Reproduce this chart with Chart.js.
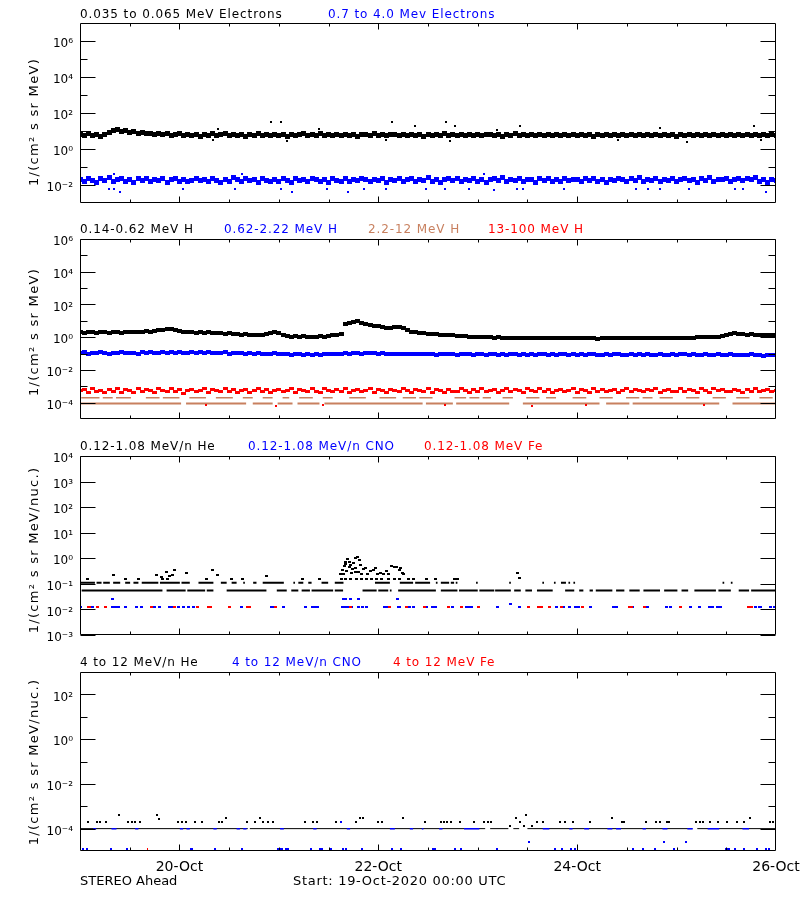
<!DOCTYPE html>
<html>
<head>
<meta charset="utf-8">
<script src="https://cdn.jsdelivr.net/npm/chart.js@4/dist/chart.umd.min.js"></script>
<style>
  body { margin: 0; background: #fff; width: 800px; height: 900px; position: relative; overflow: hidden; font-family: "DejaVu Sans", sans-serif; }
  canvas { position: absolute; left: 0; }
  .ttl { position: absolute; font-size: 12px; line-height: 14px; letter-spacing: 0.9px; white-space: pre; }
  .ylab { position: absolute; font-size: 13px; letter-spacing: 1.3px; white-space: nowrap; transform: translate(-50%, -50%) rotate(-90deg); }
  .foot { position: absolute; font-size: 13px; line-height: 14px; white-space: pre; }
</style>
</head>
<body>
<canvas id="c1" width="800" height="215" style="top:0"></canvas>
<canvas id="c2" width="800" height="215" style="top:215px"></canvas>
<canvas id="c3" width="800" height="215" style="top:430px"></canvas>
<canvas id="c4" width="800" height="255" style="top:645px"></canvas>

<div class="ttl" style="left:80px;top:7px;color:#000">0.035 to 0.065 MeV Electrons</div>
<div class="ttl" style="left:328px;top:7px;color:#0000ff">0.7 to 4.0 Mev Electrons</div>

<div class="ttl" style="left:80px;top:222px;color:#000">0.14-0.62 MeV H</div>
<div class="ttl" style="left:224px;top:222px;color:#0000ff">0.62-2.22 MeV H</div>
<div class="ttl" style="left:368px;top:222px;color:#c8805f">2.2-12 MeV H</div>
<div class="ttl" style="left:488px;top:222px;color:#ff0000">13-100 MeV H</div>

<div class="ttl" style="left:80px;top:439px;color:#000">0.12-1.08 MeV/n He</div>
<div class="ttl" style="left:248px;top:439px;color:#0000ff">0.12-1.08 MeV/n CNO</div>
<div class="ttl" style="left:424px;top:439px;color:#ff0000">0.12-1.08 MeV Fe</div>

<div class="ttl" style="left:80px;top:655px;color:#000">4 to 12 MeV/n He</div>
<div class="ttl" style="left:232px;top:655px;color:#0000ff">4 to 12 MeV/n CNO</div>
<div class="ttl" style="left:393px;top:655px;color:#ff0000">4 to 12 MeV Fe</div>

<div class="ylab" style="left:33px;top:122px">1/(cm² s sr MeV)</div>
<div class="ylab" style="left:33px;top:332px">1/(cm² s sr MeV)</div>
<div class="ylab" style="left:33px;top:550px">1/(cm² s sr MeV/nuc.)</div>
<div class="ylab" style="left:33px;top:762px">1/(cm² s sr MeV/nuc.)</div>

<div class="foot" style="left:80px;top:874px">STEREO Ahead</div>
<div class="foot" style="left:293px;top:874px;letter-spacing:0.7px">Start: 19-Oct-2020 00:00 UTC</div>

<script>
// hours since 19-Oct-2020 00:00 UTC
const xLabelHours = [24, 72, 120, 168];
const xLabels = ['20-Oct', '22-Oct', '24-Oct', '26-Oct'];
const xTickHours = [12, 24, 36, 48, 60, 72, 84, 96, 108, 120, 132, 144, 156];

// ---- panel 1: electrons, hourly values
const electronLow = [
  6.4, 5.3, 7.0, 5.6, 6.1, 4.9, 6.6, 8.2, 10.5, 12.0,
  9.6, 10.8, 8.4, 9.1, 7.6, 8.0, 7.1, 7.7, 6.5, 7.2,
  6.0, 6.9, 5.6, 6.4, 7.1, 5.4, 6.2, 5.8, 6.8, 5.1,
  6.3, 5.7, 6.9, 5.5, 6.1, 7.0, 5.3, 6.5, 5.9, 6.7,
  5.2, 6.3, 5.8, 7.1, 5.6, 6.2, 5.4, 6.8, 5.9, 6.4,
  5.1, 6.6, 5.7, 6.2, 7.0, 5.5, 6.1, 5.8, 6.9, 5.3,
  6.4, 5.9, 6.7, 5.4, 6.2, 5.7, 6.8, 5.2, 6.3, 6.0,
  5.5, 6.9, 5.8, 6.2, 5.3, 6.6, 6.0, 5.6, 6.8, 5.4,
  6.1, 5.8, 6.7, 5.2, 6.4, 5.9, 6.3, 5.5, 7.0, 5.7,
  6.2, 5.4, 6.6, 5.9, 6.1, 5.3, 6.8, 5.6, 6.4, 6.0,
  5.7, 6.5, 5.2, 6.2, 5.9, 6.9, 5.5, 6.3, 5.8, 6.6,
  5.4, 6.1, 5.7, 6.4, 5.3, 6.7, 5.9, 6.2, 5.6, 6.8,
  5.5, 6.0, 5.8, 6.5, 5.2, 6.3, 5.7, 6.1, 5.4, 6.6,
  5.9, 6.2, 5.3, 6.4, 5.8, 6.0, 5.5, 6.7, 5.6, 6.3,
  5.4, 6.1, 5.9, 6.5, 5.2, 6.2, 5.7, 6.0, 5.5, 6.4,
  5.8, 6.1, 5.3, 6.6, 5.6, 6.0, 5.9, 6.3, 5.4, 6.2,
  5.7, 6.5, 5.5, 6.1, 5.8, 6.4, 5.3, 6.0, 5.9
];
const electronLowOutT = [46.1, 48.5, 75.3, 33.2, 57.6, 80.9, 88.4, 90.4, 100.6, 106.2, 139.9, 162.8, 32.0, 49.9, 73.9, 89.3, 129.8, 146.4, 164.4];
const electronLowOutV = [30, 30, 30, 13, 13, 20, 30, 20, 12, 18, 14, 18, 3.0, 2.8, 3.2, 2.8, 3.0, 2.6, 3.0];

const electronHigh = [
  0.021, 0.016, 0.024, 0.018, 0.014, 0.022, 0.017, 0.025, 0.015, 0.020,
  0.023, 0.016, 0.019, 0.014, 0.022, 0.018, 0.024, 0.015, 0.020, 0.017,
  0.022, 0.014, 0.019, 0.023, 0.016, 0.021, 0.015, 0.018, 0.024, 0.017,
  0.020, 0.015, 0.023, 0.018, 0.014, 0.021, 0.016, 0.025, 0.019, 0.015,
  0.022, 0.017, 0.020, 0.014, 0.023, 0.018, 0.016, 0.021, 0.015, 0.024,
  0.018, 0.014, 0.022, 0.017, 0.020, 0.015, 0.023, 0.019, 0.016, 0.021,
  0.014, 0.024, 0.018, 0.016, 0.022, 0.015, 0.020, 0.017, 0.023, 0.019,
  0.015, 0.021, 0.018, 0.024, 0.014, 0.020, 0.017, 0.022, 0.016, 0.019,
  0.023, 0.015, 0.020, 0.018, 0.025, 0.016, 0.021, 0.014, 0.019, 0.022,
  0.017, 0.024, 0.015, 0.020, 0.018, 0.023, 0.016, 0.021, 0.014, 0.019,
  0.022, 0.017, 0.025, 0.015, 0.020, 0.018, 0.023, 0.016, 0.019, 0.021,
  0.014, 0.022, 0.018, 0.024, 0.016, 0.020, 0.015, 0.023, 0.017, 0.021,
  0.019, 0.015, 0.022, 0.018, 0.024, 0.016, 0.020, 0.014, 0.021, 0.017,
  0.023, 0.019, 0.015, 0.022, 0.018, 0.025, 0.016, 0.020, 0.017, 0.022,
  0.015, 0.021, 0.018, 0.024, 0.016, 0.020, 0.023, 0.017, 0.019, 0.014,
  0.022, 0.018, 0.025, 0.016, 0.021, 0.019, 0.024, 0.015, 0.020, 0.023,
  0.017, 0.022, 0.019, 0.025, 0.016, 0.021, 0.014, 0.020, 0.018
];
const electronHighOutT = [7.1, 8.3, 9.7, 24.8, 37.3, 48.4, 51.2, 59.5, 64.6, 68.6, 73.9, 83.5, 88, 94, 100, 105.6, 106.9, 116.9, 134.2, 137, 139.9, 147.1, 158, 160, 165.6, 8.3, 39, 97.6];
const electronHighOutV = [0.006, 0.006, 0.004, 0.006, 0.006, 0.006, 0.004, 0.006, 0.004, 0.006, 0.006, 0.006, 0.006, 0.006, 0.005, 0.006, 0.006, 0.006, 0.006, 0.006, 0.006, 0.006, 0.006, 0.006, 0.004, 0.04, 0.04, 0.04];

// ---- panel 2: protons, hourly values
const protonLow = [
  2.1, 1.9, 2.05, 2.2, 1.85, 2.0, 2.15, 1.9, 2.2, 1.95,
  1.9, 2.15, 1.95, 2.2, 2.0, 2.1, 2.3, 2.15, 2.45, 2.6,
  2.9, 3.1, 3.3, 2.8, 2.5, 2.2, 2.05, 2.15, 1.9, 2.0,
  1.85, 2.0, 1.75, 1.9, 1.8, 1.65, 1.8, 1.6, 1.5, 1.4,
  1.5, 1.35, 1.45, 1.3, 1.4, 1.6, 1.9, 2.1, 1.7, 1.3,
  1.2, 1.1, 1.2, 1.05, 1.15, 1.1, 1.0, 1.1, 1.2, 1.05,
  1.2, 1.3, 1.45, 1.6, 6.0, 6.9, 8.2, 9.8, 7.6, 6.3,
  5.5, 4.9, 4.7, 4.1, 3.9, 3.7, 4.1, 4.4, 3.6, 2.6,
  2.2, 1.95, 1.8, 1.7, 1.6, 1.55, 1.5, 1.45, 1.4, 1.38,
  1.3, 1.25, 1.2, 1.15, 1.1, 1.08, 1.02, 1.0, 0.97, 0.98,
  0.93, 0.97, 0.91, 0.95, 0.88, 0.92, 0.87, 0.9, 0.92, 0.86,
  0.89, 0.85, 0.9, 0.87, 0.84, 0.89, 0.86, 0.9, 0.85, 0.88,
  0.84, 0.88, 0.86, 0.9, 0.85, 0.83, 0.88, 0.86, 0.84, 0.89,
  0.86, 0.85, 0.88, 0.84, 0.89, 0.86, 0.85, 0.88, 0.89, 0.86,
  0.88, 0.9, 0.86, 0.89, 0.91, 0.89, 0.92, 0.95, 0.93, 0.97,
  1.0, 0.97, 1.02, 1.05, 1.1, 1.15, 1.3, 1.5, 1.7, 1.6,
  1.5, 1.42, 1.5, 1.38, 1.33, 1.4, 1.28, 1.35, 1.3
];
const protonMid = [
  0.11, 0.12, 0.10, 0.115, 0.105, 0.12, 0.11, 0.10, 0.115, 0.11,
  0.12, 0.105, 0.11, 0.115, 0.10, 0.12, 0.11, 0.125, 0.105, 0.115,
  0.12, 0.11, 0.125, 0.115, 0.12, 0.105, 0.115, 0.12, 0.11, 0.125,
  0.11, 0.12, 0.105, 0.115, 0.11, 0.12, 0.10, 0.11, 0.105, 0.115,
  0.10, 0.11, 0.095, 0.105, 0.09, 0.10, 0.095, 0.105, 0.09, 0.10,
  0.09, 0.085, 0.095, 0.09, 0.08, 0.09, 0.085, 0.095, 0.085, 0.09,
  0.09, 0.095, 0.10, 0.09, 0.105, 0.10, 0.11, 0.105, 0.10, 0.11,
  0.105, 0.11, 0.10, 0.105, 0.095, 0.10, 0.09, 0.10, 0.095, 0.09,
  0.10, 0.095, 0.09, 0.10, 0.095, 0.09, 0.085, 0.095, 0.09, 0.10,
  0.09, 0.085, 0.095, 0.09, 0.10, 0.085, 0.09, 0.095, 0.085, 0.09,
  0.095, 0.085, 0.09, 0.08, 0.09, 0.095, 0.085, 0.09, 0.08, 0.09,
  0.085, 0.095, 0.09, 0.085, 0.09, 0.08, 0.09, 0.095, 0.085, 0.09,
  0.08, 0.09, 0.085, 0.09, 0.095, 0.085, 0.08, 0.09, 0.085, 0.09,
  0.09, 0.085, 0.08, 0.09, 0.085, 0.095, 0.085, 0.09, 0.08, 0.085,
  0.09, 0.085, 0.08, 0.09, 0.085, 0.09, 0.095, 0.085, 0.09, 0.08,
  0.085, 0.09, 0.08, 0.085, 0.09, 0.08, 0.085, 0.09, 0.08, 0.085,
  0.08, 0.085, 0.09, 0.08, 0.085, 0.075, 0.08, 0.085, 0.08
];
const protonHigh = [
  5.2e-4, 6.8e-4, 4.1e-4, 7.4e-4, 4.8e-4, 5.9e-4, 3.9e-4, 6.3e-4, 5.0e-4, 7.8e-4,
  4.4e-4, 6.1e-4, 5.5e-4, 4.0e-4, 7.1e-4, 4.9e-4, 6.6e-4, 5.3e-4, 4.2e-4, 6.9e-4,
  5.7e-4, 4.5e-4, 7.6e-4, 5.1e-4, 6.2e-4, 3.8e-4, 5.8e-4, 6.7e-4, 4.6e-4, 5.4e-4,
  7.3e-4, 4.3e-4, 6.0e-4, 5.6e-4, 4.7e-4, 7.0e-4, 5.0e-4, 6.4e-4, 4.1e-4, 5.9e-4,
  6.8e-4, 4.4e-4, 5.3e-4, 7.5e-4, 4.9e-4, 6.1e-4, 3.9e-4, 5.7e-4, 6.5e-4, 4.6e-4,
  5.2e-4, 7.2e-4, 4.2e-4, 6.0e-4, 5.5e-4, 4.8e-4, 6.9e-4, 5.1e-4, 4.3e-4, 7.7e-4,
  5.6e-4, 4.5e-4, 6.3e-4, 5.0e-4, 7.0e-4, 4.0e-4, 5.8e-4, 6.6e-4, 4.7e-4, 5.3e-4,
  7.4e-4, 4.4e-4, 6.2e-4, 5.4e-4, 4.1e-4, 6.8e-4, 5.9e-4, 4.6e-4, 7.1e-4, 5.2e-4,
  4.3e-4, 6.4e-4, 5.7e-4, 4.9e-4, 7.6e-4, 4.2e-4, 6.0e-4, 5.5e-4, 3.9e-4, 6.7e-4,
  5.1e-4, 4.8e-4, 7.2e-4, 5.6e-4, 4.4e-4, 6.3e-4, 5.0e-4, 7.5e-4, 4.5e-4, 5.8e-4,
  6.1e-4, 4.0e-4, 5.4e-4, 7.0e-4, 4.7e-4, 6.5e-4, 5.2e-4, 4.3e-4, 6.9e-4, 5.7e-4,
  4.6e-4, 7.3e-4, 5.0e-4, 6.2e-4, 4.1e-4, 5.9e-4, 6.6e-4, 4.8e-4, 5.3e-4, 7.8e-4,
  4.4e-4, 6.0e-4, 5.5e-4, 4.2e-4, 7.1e-4, 5.1e-4, 6.4e-4, 4.7e-4, 5.8e-4, 6.8e-4,
  4.0e-4, 5.6e-4, 7.4e-4, 4.9e-4, 6.1e-4, 5.2e-4, 4.5e-4, 6.7e-4, 5.4e-4, 7.0e-4,
  4.3e-4, 5.9e-4, 6.3e-4, 4.6e-4, 5.0e-4, 7.6e-4, 4.8e-4, 6.2e-4, 5.5e-4, 4.1e-4,
  6.9e-4, 5.3e-4, 4.4e-4, 7.2e-4, 5.7e-4, 6.0e-4, 4.7e-4, 5.1e-4, 6.5e-4, 5.8e-4,
  4.2e-4, 6.6e-4, 5.0e-4, 7.3e-4, 4.5e-4, 5.6e-4, 6.1e-4, 4.9e-4, 5.4e-4
];
const protonHighLowT = [30.5, 47.4, 58.6, 88.0, 109.0, 122.2, 150.5];
const protonHighLowV = [0.7e-4, 0.62e-4, 0.75e-4, 0.7e-4, 0.65e-4, 0.7e-4, 0.72e-4];

// 2.2-12 MeV H comes in two count levels; [start, end] hours of each run
const protonMidHiLevel = 2.0e-4;
const protonMidHiRuns = [
  [0.3, 4.7], [5.5, 7.9], [8.7, 12.3], [15.9, 19.2], [20, 24], [26.4, 30.4], [32.8, 36.9],
  [39.3, 41.7], [44.1, 46.5], [48.9, 50.5], [52.9, 56.2], [58.6, 61], [65, 69], [72.3, 76.3],
  [77.9, 81.1], [81.9, 85.1], [90.4, 93.2], [94, 96.4], [97.2, 99.2], [102, 104.5], [107.7, 110.9],
  [112.5, 114.9], [118.9, 122.2], [125.4, 128.6], [131.8, 135], [135.8, 138.2], [139.9, 143.1],
  [146.3, 149.5], [152.7, 155.9], [158.4, 161.6], [164, 167.2]
];
const protonMidLoLevel = 0.9e-4;
const protonMidLoRuns = [
  [0, 24.4], [25.6, 40.1], [41.7, 46.5], [47.7, 51.3], [52.5, 57.8], [59, 82.7], [83.5, 90],
  [90.8, 103.6], [106.9, 125.4], [127, 132.6], [133.4, 154.3], [157.5, 168]
];

// ---- panel 3: 0.12-1.08 MeV/n ions
const heliumRowLevel = 0.055;
const heliumRowRuns = [
  [0.4, 19.9], [20.9, 25.5], [25.9, 30.2], [30.6, 32.2], [35.4, 45], [47.5, 49.9], [51, 52.7],
  [53.5, 55.5], [55.9, 61.1], [61.5, 63.5], [68.2, 71.6], [72, 74.4], [74.8, 75.2], [76.8, 85.9],
  [87.1, 91.1], [91.5, 96], [96.4, 100], [100.2, 104], [104.8, 106.4], [107.5, 109.1],
  [110.3, 114.1], [117.1, 119.3], [120.5, 121.5], [123, 123.8], [124.5, 128.5], [129.4, 131.4],
  [132.6, 135.1], [136, 140], [141, 144.2], [145.2, 146.8], [148.3, 153.5], [154.1, 157.1],
  [159, 161.5], [162, 168]
];
const heliumRow2Level = 0.11;
const heliumRow2Runs = [
  [0.2, 3.6], [4, 5.2], [5.6, 7.2], [8, 9.7], [10.9, 12.1], [12.9, 14.1], [14.9, 18.9], [19.3, 24.1],
  [24.5, 26.5], [28.6, 32.2], [34, 35.4], [36.6, 37.8], [39.4, 39.8], [41.8, 42.6], [44.1, 49.2],
  [51.5, 51.9], [52.7, 53.9], [55.1, 55.9], [58.3, 59.9], [61.5, 63.6], [71.2, 74.8], [77.2, 80.4],
  [80.9, 84.5], [85.9, 86.3], [87.1, 89.1], [89.5, 90.3], [90.7, 91.1], [95.6, 96], [103.6, 104],
  [111.6, 112], [114.4, 114.8], [116.1, 117.3], [117.9, 118.3], [119.1, 119.5], [155.1, 155.5], [157.1, 157.5]
];
const heliumT = [
  1.8, 11.1, 14.1, 20, 21.1, 30.6, 36.6, 39.3, 53.7, 57.9, 63.2, 64, 65.2, 66.8, 68, 69.2, 70.4, 71.6,
  72.8, 74.4, 76, 77.2, 79.2, 80.4, 83.7, 85.9, 90.3, 91,
  8.0, 20.8, 22.7, 22.3, 21.6, 25.7, 32, 33.1, 44.9, 18.5, 19.7, 105.5, 106,
  62.8, 63.4, 63.8, 64.2, 64.6, 64.1, 65, 65.4, 65.8, 66.1, 66.6, 67, 67.4, 67.8, 66.5, 67.2, 68.4,
  68.9, 69.3, 70, 70.8, 71.3, 71.8, 72.6, 73.2, 74, 74.5, 75.3, 75.8, 76.4, 77, 77.4, 77.9, 78.2,
  65.6, 64.4, 66.4, 63.6, 68, 65
];
const heliumV = [
  0.16, 0.16, 0.16, 0.16, 0.16, 0.16, 0.16, 0.16, 0.16, 0.16, 0.16, 0.16, 0.16, 0.16, 0.16, 0.16, 0.16, 0.16,
  0.16, 0.16, 0.16, 0.16, 0.16, 0.16, 0.16, 0.16, 0.16, 0.16,
  0.22, 0.30, 0.34, 0.22, 0.20, 0.26, 0.34, 0.22, 0.21, 0.22, 0.19, 0.26, 0.17,
  0.24, 0.35, 0.50, 0.74, 0.91, 0.60, 0.47, 0.55, 0.37, 0.64, 1.0, 1.09, 0.86, 0.55, 0.28, 0.30, 0.37,
  0.41, 0.24, 0.33, 0.35, 0.41, 0.24, 0.26, 0.24, 0.33, 0.24, 0.50, 0.45, 0.45, 0.35, 0.41, 0.26, 0.24,
  0.26, 0.33, 0.41, 0.24, 0.25, 0.72
];
const cnoLevel = 0.012;
const cnoT = [
  0.2, 2.7, 3.1, 7.8, 8.3, 8.8, 9.3, 10.9, 13.7, 14.9, 17.5, 18.1, 19.3, 21.6, 22.1, 22.8, 23.7, 25.1,
  26.1, 27.4, 39, 46.3, 46.7, 49.2, 54.5, 56.1, 56.7, 57.4, 63.3, 64, 64.6, 65.6, 67.2, 68.2, 69.2,
  73.6, 74, 74.6, 76.8, 77.2, 79.6, 80.4, 83.7, 85.1, 85.9, 89.9, 93.3, 93.8, 94.4, 100.8, 106.2,
  114.9, 116.7, 118.1, 119.5, 119.9, 120.3, 123.3, 128.8, 129.6, 133.4, 137, 141.6, 142.6, 147.3,
  149.6, 151.9, 152.7, 153.9, 154.5, 163.1, 163.9, 164.3, 166.6, 167.6
];
const cnoHighT = [7.9, 63.6, 64.1, 65.3, 67.3, 76.7, 103.8];
const cnoHighV = [0.025, 0.025, 0.025, 0.025, 0.025, 0.025, 0.016];
const ironLevel = 0.012;
const ironT = [
  2, 2.3, 4.3, 6.2, 17.3, 22.9, 28.4, 31, 31.6, 36, 40.5, 40.9, 47.1, 65.3, 74.8, 78.8, 83.1,
  88.9, 92.2, 96.1, 108.3, 110.7, 111.1, 111.5, 113.4, 116.2, 121.3, 132.6, 133.2, 136.2, 145,
  161.3, 162.2
];

// ---- panel 4: 4-12 MeV/n ions
const hiHeRowLevel = 1e-4;
const hiHeRowRuns = [[0, 40.5], [41, 97.8], [99, 103.4], [104.6, 106], [108, 147.8], [149, 168]];
const hiHeT = [
  2.0, 4.0, 4.8, 6.3, 11.5, 12.5, 13.3, 14.5, 23.6, 24.5, 25.7, 27.8, 29.4, 33.6, 34.2, 40.2, 42.2,
  44.2, 45.3, 46.5, 54.3, 56.3, 57.1, 61.8, 66.6, 72.0, 73.0, 83.3, 87.1, 87.9, 88.7, 89.5, 91.7,
  95.2, 97.6, 98.4, 99.2, 106.2, 110.4, 111.7, 115.8, 117.0, 119.1, 123.1, 130.8, 131.4, 136.6,
  139.0, 140.0, 141.8, 142.2, 148.7, 149.6, 150.4, 152.1, 154.1, 156.1, 158.7, 160.3, 166.6, 167.2,
  35.2, 43.4, 67.7, 68.2, 78.0, 105.2, 128.5, 161.7, 9.4, 18.7, 107.6, 19.1, 103.8, 107.1, 109.1
];
const hiHeV = [
  2e-4, 2e-4, 2e-4, 2e-4, 2e-4, 2e-4, 2e-4, 2e-4, 2e-4, 2e-4, 2e-4, 2e-4, 2e-4, 2e-4, 2e-4, 2e-4, 2e-4,
  2e-4, 2e-4, 2e-4, 2e-4, 2e-4, 2e-4, 2e-4, 2e-4, 2e-4, 2e-4, 2e-4, 2e-4, 2e-4, 2e-4, 2e-4, 2e-4,
  2e-4, 2e-4, 2e-4, 2e-4, 2e-4, 2e-4, 2e-4, 2e-4, 2e-4, 2e-4, 2e-4, 2e-4, 2e-4, 2e-4,
  2e-4, 2e-4, 2e-4, 2e-4, 2e-4, 2e-4, 2e-4, 2e-4, 2e-4, 2e-4, 2e-4, 2e-4, 2e-4, 2e-4,
  3e-4, 3e-4, 3e-4, 3e-4, 3e-4, 3e-4, 3e-4, 3e-4, 4e-4, 4e-4, 4e-4, 2.8e-4, 1.3e-4, 1.3e-4, 1.3e-4
];
const hiCnoRuns = [
  [3.2, 3.9], [7.6, 8.8], [13.3, 14.1], [24.1, 24.9], [25.7, 26.5], [32.2, 33], [37.8, 38.6],
  [39.4, 40.2], [48.3, 49.2], [56.3, 57.1], [64.4, 65.2], [74.8, 76], [79.6, 80.4], [82.5, 82.9],
  [86.7, 87.5], [92.7, 96.4], [111.7, 113.3], [118.1, 118.9], [121.7, 122.9], [127.3, 128.5],
  [129.4, 130.6], [135.8, 136.6], [140.6, 141.8], [146.6, 147.9], [151.5, 154.3], [159.9, 161.5]
];
const hiCnoLowLevel = 1.25e-5;
const hiCnoLowT = [
  0.8, 1.6, 7.4, 11.3, 26.7, 27.1, 32.6, 39.0, 47.9, 48.3, 48.7, 49.7, 50.3, 55.7, 57.9, 58.3, 60.5,
  63.4, 64.2, 68.0, 75.2, 77.4, 85.1, 85.7, 90.6, 92.0, 100.6, 114.6, 116.3, 118.5, 119.5, 133.4,
  136.0, 138.8, 143.4, 155.9, 156.3, 156.7, 158.1, 160.3, 163.4, 165.6, 166.2
];
const hiCnoUpT = [108.4, 141.0, 146.2, 63.0];
const hiCnoUpV = [2.5e-5, 2.5e-5, 2.5e-5, 2e-4];
const hiIronT = [16.3];
const hiIronV = [1.25e-5];

// ---- helpers
const SUP = { '-': '\u207B', '0': '\u2070', '1': '\u00B9', '2': '\u00B2', '3': '\u00B3', '4': '\u2074', '5': '\u2075', '6': '\u2076', '7': '\u2077' };
function supLabel(v) {
  const e = Math.round(Math.log10(v));
  return '10' + String(e).split('').map(c => SUP[c]).join('');
}

function dot(w, h, color) {
  const c = document.createElement('canvas');
  c.width = w;
  c.height = h;
  const g = c.getContext('2d');
  g.fillStyle = color;
  g.fillRect(0, 0, w, h);
  return c;
}
const hourly = vals => vals.map((v, i) => ({ x: i, y: v }));
const pairs = (times, vals) => times.map((t, i) => ({ x: t, y: vals[i] }));
const level = (times, v) => times.map(t => ({ x: t, y: v }));
function runs(list, v) {
  const out = [];
  list.forEach(([a, b]) => out.push({ x: a, y: v }, { x: b, y: v }, { x: b, y: null }));
  return out;
}
function dots(data, color, w, h) {
  return { data, pointStyle: dot(w, h, color), pointRadius: 2, borderColor: color, backgroundColor: color, showLine: false };
}
function row(data, color, width) {
  return { data, showLine: true, spanGaps: false, borderColor: color, borderWidth: width, pointRadius: 0, fill: false };
}

// the label overhang must not move the plot box
function noPad(s) {
  s.paddingLeft = 0;
  s.paddingRight = 0;
  s.paddingTop = 0;
  s.paddingBottom = 0;
}

// box, inward ticks on all four sides
const frameTicks = {
  id: 'frameTicks',
  afterDatasetsDraw(chart, args, opts) {
    const { ctx, chartArea: a } = chart;
    const xs = chart.scales.x, ys = chart.scales.y;
    const L = a.left + 0.5, R = a.right - 0.5, T = a.top + 0.5, B = a.bottom - 0.5;
    ctx.save();
    ctx.strokeStyle = '#000';
    ctx.lineWidth = 1;
    ctx.beginPath();
    ctx.rect(L, T, R - L, B - T);
    const yTick = (v, len) => {
      const p = Math.round(ys.getPixelForValue(v)) + 0.5;
      ctx.moveTo(L, p); ctx.lineTo(L + len, p);
      ctx.moveTo(R, p); ctx.lineTo(R - len, p);
    };
    opts.major.forEach(v => yTick(v, 15));
    opts.minor.forEach(v => yTick(v, 7));
    xTickHours.forEach(h => {
      const len = xLabelHours.includes(h) ? 6 : 3;
      const p = Math.round(xs.getPixelForValue(h)) + 0.5;
      ctx.moveTo(p, T); ctx.lineTo(p, T + len);
      ctx.moveTo(p, B); ctx.lineTo(p, B - len);
    });
    ctx.stroke();
    ctx.restore();
  }
};

function makeChart(id, cfg) {
  const xScale = cfg.xLabels ? {
    type: 'linear', min: 0, max: 168,
    grid: { display: false, drawTicks: false },
    border: { display: false },
    afterBuildTicks: s => { s.ticks = xLabelHours.map(v => ({ value: v })); },
    afterFit: s => { s.height = 49; noPad(s); },
    ticks: {
      autoSkip: false, maxRotation: 0, padding: 8, color: '#000',
      font: { family: 'DejaVu Sans', size: 14 },
      callback: v => xLabels[xLabelHours.indexOf(v)]
    }
  } : { type: 'linear', min: 0, max: 168, display: false };

  return new Chart(document.getElementById(id), {
    type: 'scatter',
    data: { datasets: cfg.datasets },
    options: {
      responsive: false,
      animation: false,
      events: [],
      layout: { padding: { left: 24, right: 24, top: cfg.top, bottom: cfg.bottom } },
      plugins: {
        legend: { display: false },
        tooltip: { enabled: false },
        frameTicks: { major: cfg.major, minor: cfg.minor }
      },
      scales: {
        x: xScale,
        y: {
          type: 'logarithmic', min: cfg.min, max: cfg.max,
          grid: { display: false, drawTicks: false },
          border: { display: false },
          afterBuildTicks: s => { s.ticks = cfg.labels.slice().sort((a, b) => a - b).map(v => ({ value: v })); },
          afterFit: s => { s.width = 56; noPad(s); },
          ticks: {
            autoSkip: false, padding: 7, labelOffset: 3, color: '#000',
            font: { family: 'DejaVu Sans', size: 12 },
            callback: v => supLabel(v)
          }
        }
      }
    },
    plugins: [frameTicks]
  });
}

const BLACK = '#000000', BLUE = '#0000ff', RED = '#ff0000', BROWN = '#c8805f';

makeChart('c1', {
  top: 23, bottom: 12, min: 1e-3, max: 1e7,
  labels: [1e6, 1e4, 1e2, 1, 1e-2],
  major: [1e6, 1e4, 1e2, 1, 1e-2],
  minor: [1e5, 1e3, 1e1, 1e-1],
  datasets: [
    dots(hourly(electronLow), BLACK, 5, 5),
    dots(pairs(electronLowOutT, electronLowOutV), BLACK, 2, 2),
    dots(hourly(electronHigh), BLUE, 5, 5),
    dots(pairs(electronHighOutT, electronHighOutV), BLUE, 2, 2)
  ]
});

makeChart('c2', {
  top: 24, bottom: 11, min: 1e-5, max: 1e6,
  labels: [1e6, 1e4, 1e2, 1, 1e-2, 1e-4],
  major: [1e6, 1e4, 1e2, 1, 1e-2, 1e-4],
  minor: [1e5, 1e3, 1e1, 1e-1, 1e-3],
  datasets: [
    dots(hourly(protonLow), BLACK, 5, 4),
    dots(hourly(protonMid), BLUE, 5, 4),
    dots(hourly(protonHigh), RED, 5, 3),
    dots(pairs(protonHighLowT, protonHighLowV), RED, 2, 2),
    row(runs(protonMidHiRuns, protonMidHiLevel), BROWN, 1.5),
    row(runs(protonMidLoRuns, protonMidLoLevel), BROWN, 2)
  ]
});

makeChart('c3', {
  top: 26, bottom: 10, min: 1e-3, max: 1e4,
  labels: [1e4, 1e3, 1e2, 1e1, 1, 1e-1, 1e-2, 1e-3],
  major: [1e4, 1e3, 1e2, 1e1, 1, 1e-1, 1e-2, 1e-3],
  minor: [],
  datasets: [
    dots(pairs(heliumT, heliumV), BLACK, 3, 2),
    row(runs(heliumRowRuns, heliumRowLevel), BLACK, 2),
    row(runs(heliumRow2Runs, heliumRow2Level), BLACK, 2),
    dots(level(ironT, ironLevel), RED, 3, 2),
    dots(level(cnoT, cnoLevel), BLUE, 3, 2),
    dots(pairs(cnoHighT, cnoHighV), BLUE, 3, 2)
  ]
});

makeChart('c4', {
  top: 27, bottom: 0, min: 1e-5, max: 1e3, xLabels: true,
  labels: [1e2, 1, 1e-2, 1e-4],
  major: [1e2, 1, 1e-2, 1e-4],
  minor: [1e1, 1e-1, 1e-3],
  datasets: [
    row(runs(hiCnoRuns, hiHeRowLevel), BLUE, 1.5),
    row(runs(hiHeRowRuns, hiHeRowLevel), BLACK, 1),
    dots(pairs(hiHeT, hiHeV), BLACK, 2, 2),
    dots(level(hiCnoLowT, hiCnoLowLevel), BLUE, 2, 2),
    dots(pairs(hiCnoUpT, hiCnoUpV), BLUE, 2, 2),
    dots(pairs(hiIronT, hiIronV), RED, 1, 2)
  ]
});
</script>
</body>
</html>
